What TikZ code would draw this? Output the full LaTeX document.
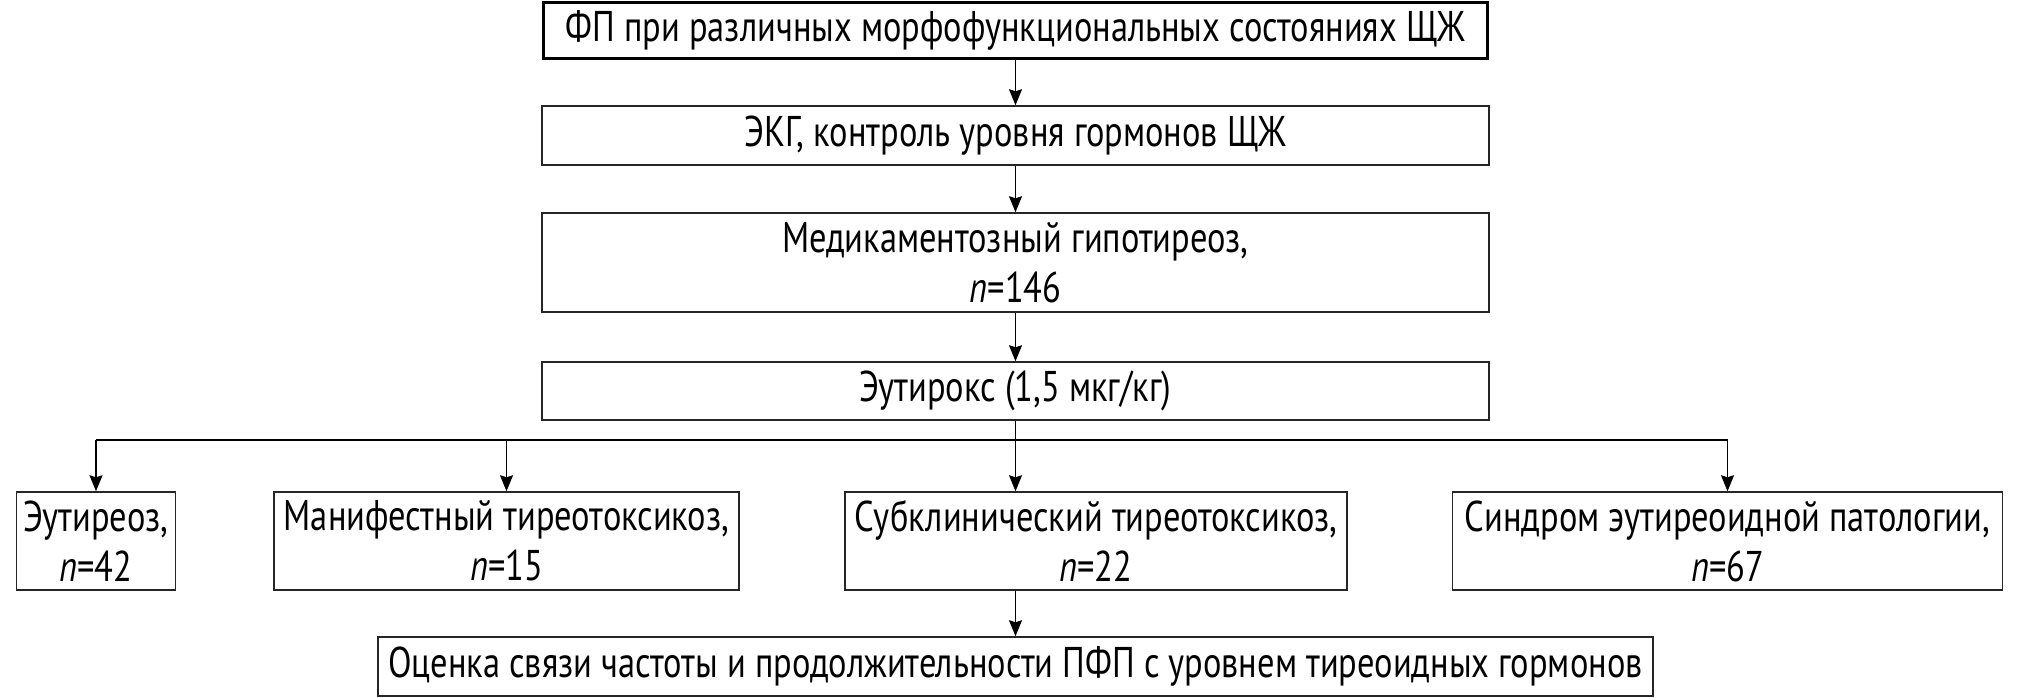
\documentclass[tikz,border=0pt]{standalone}
\usepackage{fontspec}
\setmainfont{PT Sans}[FakeStretch=0.8]
\usetikzlibrary{arrows.meta}
\tikzset{
  box/.style={draw=black!85, line width=1.5pt, inner sep=0pt, align=center,
    font=\fontsize{43}{50}\selectfont},
  topbox/.style={box, draw=black, line width=2.6pt},
  conn/.style={line width=1.3pt, -{Stealth[length=16pt,width=13pt,inset=2pt]}},
  plain/.style={line width=1.3pt}
}
\begin{document}
\begin{tikzpicture}[x=1pt,y=-1pt]
\useasboundingbox (0,0) rectangle (2020,697);
\node[topbox, minimum width=944pt, minimum height=56pt] (b1) at (1015.5,30.5) {ФП при различных морфофункциональных состояниях ЩЖ};
\node[box, minimum width=947pt, minimum height=59pt] (b2) at (1015.5,135.5) {ЭКГ, контроль уровня гормонов ЩЖ};
\node[box, minimum width=947pt, minimum height=99pt] (b3) at (1015.5,262.5) {Медикаментозный гипотиреоз,\\ \textit{n}=146};
\node[box, minimum width=947pt, minimum height=58pt] (b4) at (1015.5,391) {Эутирокс (1,5 мкг/кг)};
\node[box, minimum width=159pt, minimum height=98pt] (r1) at (96,541) {Эутиреоз,\\ \textit{n}=42};
\node[box, minimum width=465pt, minimum height=98pt] (r2) at (506.5,541) {Манифестный тиреотоксикоз,\\ \textit{n}=15};
\node[box, minimum width=502pt, minimum height=98pt] (r3) at (1096,541) {Субклинический тиреотоксикоз,\\ \textit{n}=22};
\node[box, minimum width=550pt, minimum height=98pt] (r4) at (1727.5,541) {Синдром эутиреоидной патологии,\\ \textit{n}=67};
\node[box, minimum width=1275pt, minimum height=59pt] (bot) at (1015.5,666.5) {Оценка связи частоты и продолжительности ПФП с уровнем тиреоидных гормонов};
\coordinate (jl) at (96,440);
\coordinate (jr) at (1727.5,440);
\draw[conn] (b1) -- (b2);
\draw[conn] (b2) -- (b3);
\draw[conn] (b3) -- (b4);
\draw[conn] (b4.south) -- (b4.south |- r3.north);
\draw[plain] (jl) -- (jr);
\draw[conn] (jl) -- (r1.north);
\draw[conn] (r2.north |- jl) -- (r2.north);
\draw[conn] (jr) -- (r4.north);
\draw[conn] (bot.north |- r3.south) -- (bot.north);
\end{tikzpicture}
\end{document}
